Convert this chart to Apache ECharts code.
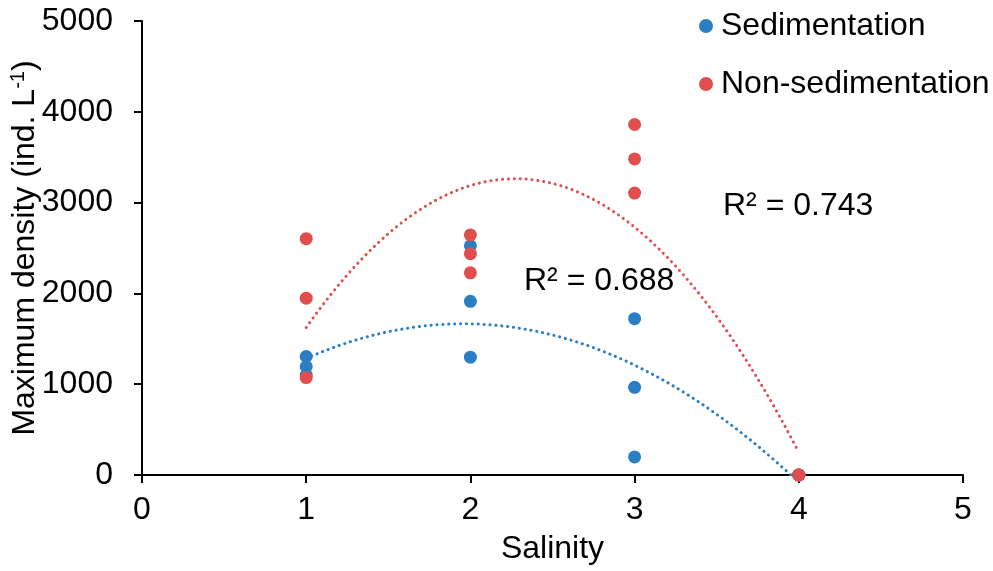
<!DOCTYPE html>
<html>
<head>
<meta charset="utf-8">
<script src="https://cdn.jsdelivr.net/npm/echarts@6/dist/echarts.min.js"></script>
<style>
  html, body { margin: 0; padding: 0; background: #fff; }
  #chart { width: 993px; height: 571px; }
</style>
</head>
<body>
<div id="chart"></div>
<script>
// salinity levels and measured maximum densities (ind. L-1)
const sedX = [1, 1, 1, 2, 2, 2, 3, 3, 3, 4, 4, 4];
const sedY = [1305, 1195, 1100, 2525, 1913, 1298, 1722, 966, 199, 0, 0, 0];
const nonSedX = [1, 1, 1, 2, 2, 2, 3, 3, 3, 4, 4, 4];
const nonSedY = [2603, 1947, 1073, 2644, 2437, 2227, 3860, 3481, 3105, 0, 0, 0];
const r2Labels = ["R² = 0.688", "R² = 0.743"];

const FONT = "'Liberation Sans', Arial, sans-serif";
const BLUE = "#2a7fc4";
const RED = "#e04e4e";

// 2nd order polynomial trend line (least squares), like the spreadsheet trendline
function polyFit2(xs, ys) {
  let s = [0, 0, 0, 0, 0], t = [0, 0, 0];
  xs.forEach((x, i) => {
    for (let k = 0; k < 5; k++) s[k] += Math.pow(x, k);
    for (let k = 0; k < 3; k++) t[k] += ys[i] * Math.pow(x, k);
  });
  const m = [
    [s[0], s[1], s[2], t[0]],
    [s[1], s[2], s[3], t[1]],
    [s[2], s[3], s[4], t[2]],
  ];
  for (let i = 0; i < 3; i++) {
    for (let j = i + 1; j < 3; j++) {
      const f = m[j][i] / m[i][i];
      for (let k = i; k < 4; k++) m[j][k] -= f * m[i][k];
    }
  }
  const c = [0, 0, 0];
  for (let i = 2; i >= 0; i--) {
    let v = m[i][3];
    for (let k = i + 1; k < 3; k++) v -= m[i][k] * c[k];
    c[i] = v / m[i][i];
  }
  return c;
}

function trend(xs, ys) {
  const c = polyFit2(xs, ys);
  const lo = Math.min(...xs), hi = Math.max(...xs);
  const pts = [];
  for (let i = 0; i <= 60; i++) {
    const x = lo + (hi - lo) * i / 60;
    pts.push([x, c[0] + c[1] * x + c[2] * x * x]);
  }
  return pts;
}

const sedData = sedX.map((x, i) => [x, sedY[i]]);
const nonSedData = nonSedX.map((x, i) => [x, nonSedY[i]]);

const chart = echarts.init(document.getElementById("chart"));

const axisText = { color: "#000", fontSize: 32, fontFamily: FONT };

const option = {
  animation: false,
  backgroundColor: "#fff",
  grid: { left: 142, right: 30, top: 21, bottom: 96, outerBoundsMode: "none", containLabel: false },
  legend: {
    orient: "vertical",
    left: 694,
    top: 5,
    itemGap: 26,
    itemWidth: 14,
    itemHeight: 14,
    icon: "circle",
    data: ["Sedimentation", "Non-sedimentation"],
    textStyle: { color: "#000", fontSize: 32, fontFamily: FONT, padding: [0, 0, 0, 3] },
  },
  xAxis: {
    type: "value",
    min: 0,
    max: 5,
    interval: 1,
    name: "Salinity",
    nameLocation: "middle",
    nameGap: 58,
    nameMoveOverlap: false,
    nameTextStyle: axisText,
    axisLine: { onZero: false, lineStyle: { color: "#000", width: 2 } },
    axisTick: { show: true, length: 8, lineStyle: { color: "#000", width: 2 } },
    axisLabel: Object.assign({ margin: 19 }, axisText),
    splitLine: { show: false },
  },
  yAxis: {
    type: "value",
    min: 0,
    max: 5000,
    interval: 1000,
    name: "{a|Maximum density (ind. L}{s|-1}{a|)}",
    nameLocation: "middle",
    nameGap: 100,
    nameMoveOverlap: false,
    nameTextStyle: {
      rich: {
        a: axisText,
        s: { color: "#000", fontSize: 20, fontFamily: FONT, verticalAlign: "top", padding: [0, 0, 14, 0] },
      },
    },
    axisLine: { show: true, lineStyle: { color: "#000", width: 2 } },
    axisTick: { show: true, length: 8, lineStyle: { color: "#000", width: 2 } },
    axisLabel: Object.assign({ margin: 29, formatter: (v) => String(v) }, axisText),
    splitLine: { show: false },
  },
  series: [
    {
      name: "Sedimentation trend",
      type: "line",
      data: trend(sedX, sedY),
      showSymbol: false,
      clip: true,
      lineStyle: { color: BLUE, width: 3, type: [0.1, 5.8], cap: "round" },
      z: 1,
    },
    {
      name: "Non-sedimentation trend",
      type: "line",
      data: trend(nonSedX, nonSedY),
      showSymbol: false,
      clip: true,
      lineStyle: { color: RED, width: 3, type: [0.1, 5.8], cap: "round" },
      z: 1,
    },
    {
      name: "Sedimentation",
      type: "scatter",
      data: sedData,
      symbolSize: 13,
      itemStyle: { color: BLUE, opacity: 1 },
      z: 3,
    },
    {
      name: "Non-sedimentation",
      type: "scatter",
      data: nonSedData,
      symbolSize: 13,
      itemStyle: { color: RED, opacity: 1 },
      z: 4,
    },
  ],
  graphic: [
    {
      type: "text",
      left: 524,
      top: 265,
      style: { text: r2Labels[0], fill: "#000", fontSize: 32, fontFamily: FONT },
    },
    {
      type: "text",
      left: 723,
      top: 190,
      style: { text: r2Labels[1], fill: "#000", fontSize: 32, fontFamily: FONT },
    },
  ],
};

chart.setOption(option);
window.addEventListener("resize", () => chart.resize());
</script>
</body>
</html>
